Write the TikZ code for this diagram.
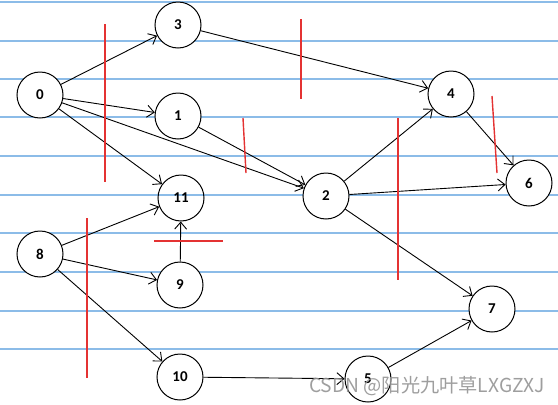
\documentclass[tikz,border=0pt]{standalone}
\usepackage{fontspec}
\setmainfont{Carlito}
\newfontfamily\cjkwm{Noto Sans CJK SC}
\usetikzlibrary{arrows.meta}
\definecolor{ruleblue}{RGB}{140,188,232}
\definecolor{markred}{RGB}{228,50,50}
\tikzset{
  vnode/.style={circle, draw=black, line width=1pt, fill=white, minimum size=46pt, inner sep=0pt, font=\fontsize{15}{15}\selectfont\bfseries},
  vnodeclear/.style={vnode, fill=none},
  edge/.style={line width=0.9pt, -{Straight Barb[length=7pt,width=12pt,line width=0.9pt]}},
  ruleline/.style={ruleblue, line width=1.3pt},
  redmark/.style={markred, line width=1.4pt},
}
\begin{document}
\begin{tikzpicture}[x=1pt,y=-1pt]
\useasboundingbox (0,0) rectangle (558,405);
\fill[white] (0,0) rectangle (558,405);
% ruled lines
\foreach \yy in {2,41,79,117,156,195,233,272,311,349}
  \draw[ruleline] (0,\yy) -- (558,\yy);
% nodes
\node[vnode] (n0) at (40,95) {0};
\node[vnode] (n3) at (178,25) {3};
\node[vnode] (n1) at (178,116) {1};
\node[vnodeclear] (n11) at (181,198) {11};
\node[vnode] (n2) at (326,196) {2};
\node[vnode] (n4) at (451,94) {4};
\node[vnode] (n6) at (529,183) {6};
\node[vnode] (n8) at (40,254) {8};
\node[vnode] (n9) at (180,285) {9};
\node[vnode] (n10) at (180,377) {10};
\node[vnode] (n7) at (492,309) {7};
\node[vnode] (n5) at (368,379) {5};
% edges
\draw[edge] (n0) -- (n3);
\draw[edge] (n0) -- (n1);
\draw[edge] (n0) -- (n11);
\draw[edge] (n0) -- (n2);
\draw[edge] (n3) -- (n4);
\draw[edge] (n1) -- (n2);
\draw[edge] (n2) -- (n4);
\draw[edge] (n2) -- (n6);
\draw[edge] (n2) -- (n7);
\draw[edge] (n4) -- (n6);
\draw[edge] (n8) -- (n11);
\draw[edge] (n8) -- (n9);
\draw[edge] (n8) -- (n10);
\draw[edge] (n9) -- (n11);
\draw[edge] (n10) -- (n5);
\draw[edge] (n5) -- (n7);
% red cut marks
\draw[redmark] (105,24) -- (105,182);
\draw[redmark] (243,118) -- (246,173);
\draw[redmark] (301,19) -- (301,99);
\draw[redmark] (398,118) -- (398,280);
\draw[redmark] (492,96) -- (497,173);
\draw[redmark] (87,218) -- (87,378);
\draw[redmark] (154,241) -- (223,241);
% watermark
\node[anchor=base west, inner sep=0pt, text=black!42, opacity=0.9, font=\cjkwm\fontsize{19.2}{19.2}\selectfont] (wm) at (309,392) {CSDN @阳光九叶草LXGZXJ};
\end{tikzpicture}
\end{document}
